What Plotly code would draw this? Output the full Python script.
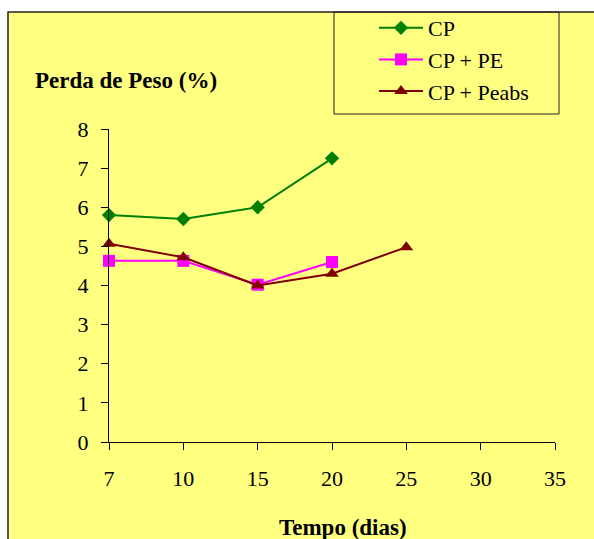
import plotly.graph_objects as go

categories = ["7", "10", "15", "20", "25", "30", "35"]
cp = [5.8, 5.7, 6.0, 7.25]
cp_pe = [4.63, 4.63, 4.02, 4.6]
cp_peabs = [5.07, 4.72, 4.0, 4.3, 4.98]

W, H = 594, 539
L, R, T, B = 109, 39, 129, 97
pw, ph = W - L - R, H - T - B

def px2x(px):
    return (px - L) / pw

def py2y(py):
    return (H - B - py) / ph

FONT = "'Liberation Serif', 'Times New Roman', 'Liberation Sans', sans-serif"
BG = "#FFFF80"

fig = go.Figure()
fig.add_trace(go.Scatter(x=categories[:len(cp)], y=cp, name="CP", mode="lines+markers",
                         cliponaxis=False,
                         line=dict(color="#008000", width=2),
                         marker=dict(symbol="diamond", size=11, color="#008000")))
fig.add_trace(go.Scatter(x=categories[:len(cp_pe)], y=cp_pe, name="CP + PE", mode="lines+markers",
                         cliponaxis=False,
                         line=dict(color="#FF00FF", width=2),
                         marker=dict(symbol="square", size=12, color="#FF00FF")))
fig.add_trace(go.Scatter(x=categories[:len(cp_peabs)], y=cp_peabs, name="CP + Peabs", mode="lines+markers",
                         cliponaxis=False,
                         line=dict(color="#800000", width=2),
                         marker=dict(symbol="triangle-up", size=12, color="#800000")))

fig.update_layout(
    width=W, height=H,
    margin=dict(l=L, r=R, t=T, b=B, pad=0, autoexpand=False),
    paper_bgcolor="white",
    plot_bgcolor="rgba(0,0,0,0)",
    font=dict(family=FONT, size=22, color="black"),
    showlegend=True,
    legend=dict(x=px2x(374), y=py2y(7), xanchor="left", yanchor="top",
                bgcolor="rgba(0,0,0,0)", borderwidth=0, itemwidth=44,
                tracegroupgap=0,
                font=dict(family=FONT, size=22, color="black")),
    xaxis=dict(type="category", categoryorder="array", categoryarray=categories,
               range=[0, len(categories) - 1], showgrid=False, zeroline=False,
               showline=True, linecolor="black", linewidth=1,
               ticks="outside", ticklen=7, tickcolor="black",
               ticklabelstandoff=10, automargin=False,
               tickfont=dict(family=FONT, size=22)),
    yaxis=dict(range=[0, 8], dtick=1, showgrid=False, zeroline=False,
               showline=True, linecolor="black", linewidth=1,
               ticks="outside", ticklen=7, tickcolor="black",
               ticklabelstandoff=8, automargin=False,
               tickfont=dict(family=FONT, size=22)),
    shapes=[
        dict(type="rect", xref="paper", yref="paper",
             x0=px2x(8), x1=px2x(605), y0=py2y(550), y1=py2y(12),
             fillcolor=BG, line=dict(color="#222", width=1.5), layer="below"),
        dict(type="rect", xref="paper", yref="paper",
             x0=px2x(334), x1=px2x(559), y0=py2y(114), y1=py2y(12),
             fillcolor="rgba(0,0,0,0)", line=dict(color="#222", width=1), layer="above"),
    ],
    annotations=[
        dict(text="<b>Perda de Peso (%)</b>", xref="paper", yref="paper",
             x=px2x(126), y=py2y(80), xanchor="center", yanchor="middle",
             showarrow=False, font=dict(family=FONT, size=23, color="black")),
        dict(text="<b>Tempo (dias)</b>", xref="paper", yref="paper",
             x=px2x(343), y=py2y(527), xanchor="center", yanchor="middle",
             showarrow=False, font=dict(family=FONT, size=23, color="black")),
    ],
)

fig.write_html("out.html")
